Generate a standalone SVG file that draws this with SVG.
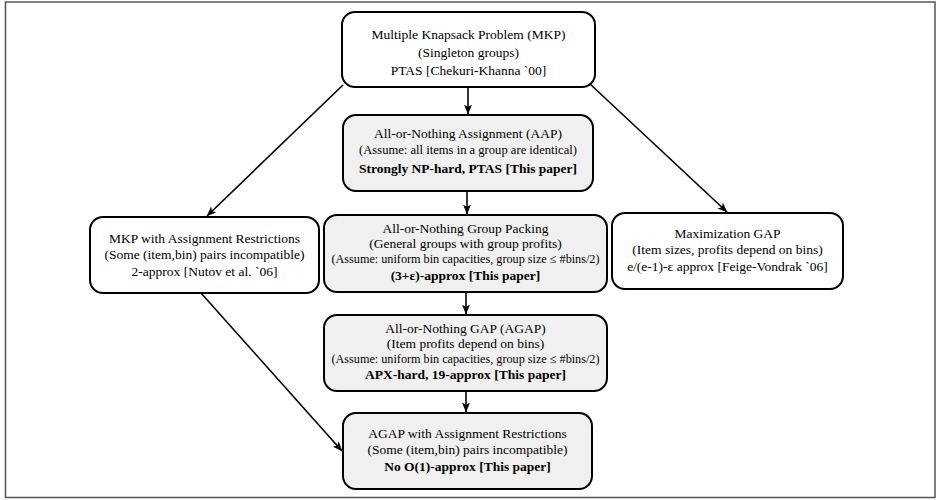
<svg xmlns="http://www.w3.org/2000/svg" width="936" height="500" viewBox="0 0 936 500">
<defs>
<marker id="ah" markerWidth="10" markerHeight="8" refX="9.5" refY="4" orient="auto" markerUnits="userSpaceOnUse">
<path d="M0,0 L10,4 L0,8 L2.5,4 z" fill="#000"/>
</marker>
<style>
.frame{fill:#fff;stroke:#555;stroke-width:1.5}
.box{fill:#fff;stroke:#000;stroke-width:2}
.gbox{fill:#f0f0f0;stroke:#000;stroke-width:2}
.edge{stroke:#000;stroke-width:1.6;fill:none;marker-end:url(#ah)}
text{font-family:"Liberation Serif","Times New Roman",serif;text-anchor:middle;fill:#000}
.t{font-size:13.5px}
.s{font-size:12.2px}
.b{font-size:13.5px;font-weight:bold}
</style>
</defs>
<rect class="frame" x="5.5" y="2" width="929.5" height="495.5"/>
<g id="connectors">
<line class="edge" x1="468" y1="87" x2="468" y2="114"/>
<line class="edge" x1="467" y1="191" x2="467" y2="214"/>
<line class="edge" x1="466" y1="292" x2="466" y2="314"/>
<line class="edge" x1="466" y1="391" x2="466" y2="412"/>
<line class="edge" x1="343" y1="85" x2="207" y2="216"/>
<line class="edge" x1="590" y1="84" x2="727" y2="212"/>
<line class="edge" x1="201" y1="293" x2="342" y2="451"/>
</g>
<g id="mkp">
<rect class="box" x="342" y="12" width="253" height="75" rx="13"/>
<text class="t" x="468.5" y="39">Multiple Knapsack Problem (MKP)</text>
<text class="t" x="468.5" y="57">(Singleton groups)</text>
<text class="t" x="468.5" y="75">PTAS [Chekuri-Khanna `00]</text>
</g>
<g id="aap">
<rect class="gbox" x="343" y="115" width="250" height="76" rx="13"/>
<text class="t" x="468" y="138">All-or-Nothing Assignment (AAP)</text>
<text class="s" x="468" y="154" style="font-size:12.6px">(Assume: all items in a group are identical)</text>
<text class="b" x="468" y="173">Strongly NP-hard, PTAS [This paper]</text>
</g>
<g id="mkp-ar">
<rect class="box" x="90" y="217" width="229" height="76" rx="13"/>
<text class="t" x="204.5" y="243">MKP with Assignment Restrictions</text>
<text class="t" x="204.5" y="259">(Some (item,bin) pairs incompatible)</text>
<text class="t" x="204.5" y="276">2-approx [Nutov et al. `06]</text>
</g>
<g id="agp">
<rect class="gbox" x="324" y="215" width="283" height="77" rx="13"/>
<text class="t" x="465.5" y="233">All-or-Nothing Group Packing</text>
<text class="t" x="465.5" y="248">(General groups with group profits)</text>
<text class="s" x="465.5" y="263">(Assume: uniform bin capacities, group size ≤ #bins/2)</text>
<text class="b" x="465.5" y="280">(3+ε)-approx [This paper]</text>
</g>
<g id="maxgap">
<rect class="box" x="612" y="213" width="231" height="76" rx="13"/>
<text class="t" x="727.5" y="238">Maximization GAP</text>
<text class="t" x="727.5" y="254">(Item sizes, profits depend on bins)</text>
<text class="t" x="727.5" y="271">e/(e-1)-ε approx [Feige-Vondrak `06]</text>
</g>
<g id="agap">
<rect class="gbox" x="324" y="315" width="283" height="76" rx="13"/>
<text class="t" x="465.5" y="333">All-or-Nothing GAP (AGAP)</text>
<text class="t" x="465.5" y="348">(Item profits depend on bins)</text>
<text class="s" x="465.5" y="363">(Assume: uniform bin capacities, group size ≤ #bins/2)</text>
<text class="b" x="465.5" y="379">APX-hard, 19-approx [This paper]</text>
</g>
<g id="agap-ar">
<rect class="gbox" x="343" y="413" width="249" height="76" rx="13"/>
<text class="t" x="467.5" y="438">AGAP with Assignment Restrictions</text>
<text class="t" x="467.5" y="454">(Some (item,bin) pairs incompatible)</text>
<text class="b" x="467.5" y="471">No O(1)-approx [This paper]</text>
</g>
</svg>
